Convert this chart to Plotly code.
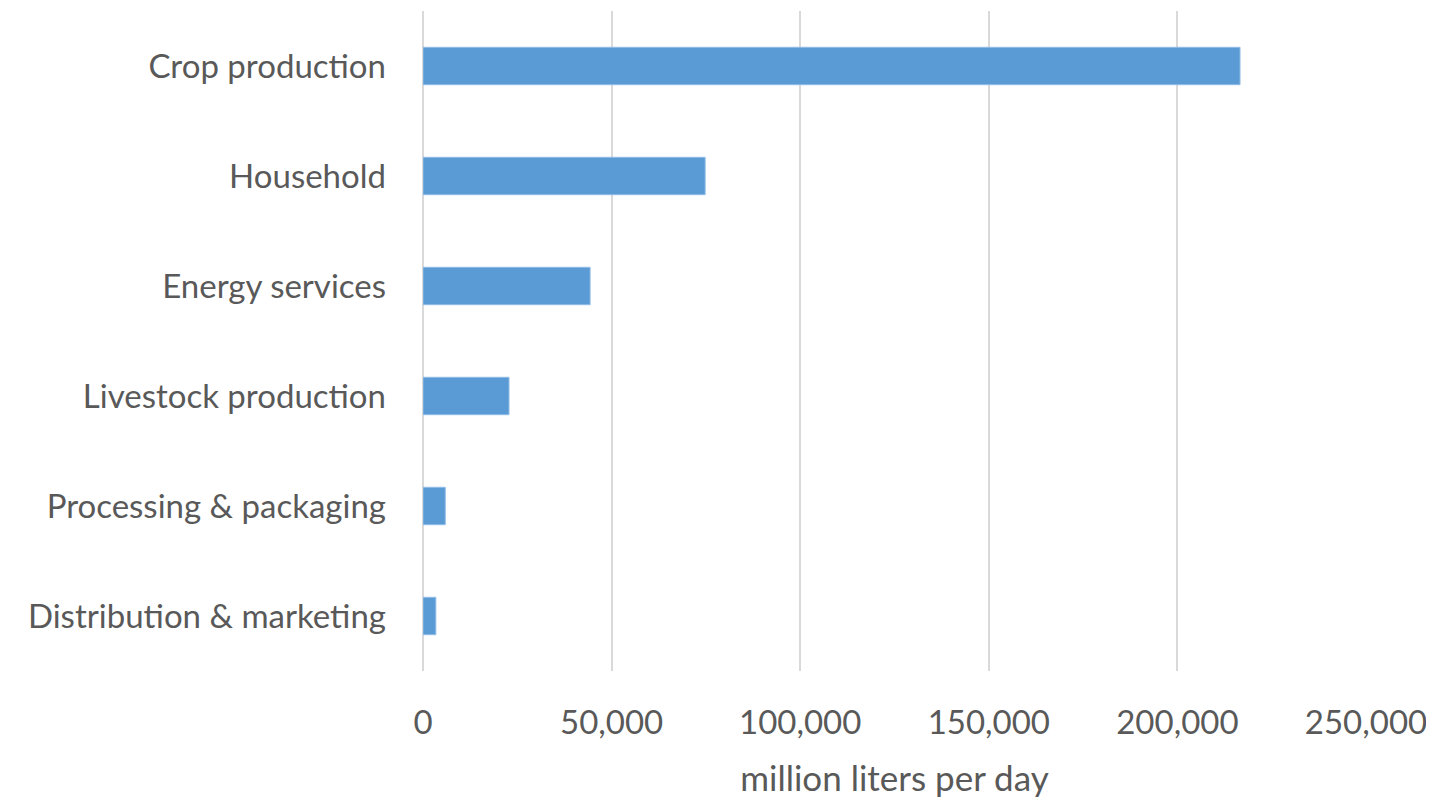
import plotly.graph_objects as go

categories = ["Crop production", "Household", "Energy services", "Livestock production",
              "Processing & packaging", "Distribution & marketing"]
values = [216600, 74800, 44300, 22800, 5900, 3400]
tick_vals = [0, 50000, 100000, 150000, 200000, 250000]
tick_text = ["0", "50,000", "100,000", "150,000", "200,000", "250,000"]

fig = go.Figure(go.Bar(
    x=values, y=categories, orientation="h",
    marker=dict(color="#5B9BD5", line=dict(color="#8FBCE6", width=1)),
    width=0.34,
))

font_family = "Lato, Open Sans, sans-serif"
fs = 33
# page body has an 8px default margin; compensate so the plot lands where the reference has it
fig.update_layout(
    width=1426, height=794,
    margin=dict(l=415, r=68, t=3, b=131, autoexpand=False),
    paper_bgcolor="white", plot_bgcolor="white",
    showlegend=False,
    font=dict(family=font_family, size=fs, color="#595959"),
)
fig.update_xaxes(
    range=[0, 250000], tickvals=tick_vals, ticktext=tick_text,
    showgrid=True, gridcolor="#D9D9D9", gridwidth=1.5,
    zeroline=True, zerolinecolor="#D9D9D9", zerolinewidth=1.5,
    showline=False, ticks="", automargin=False,
    ticklabelstandoff=29,
    tickfont=dict(size=fs, color="#595959"),
    title=dict(text="million liters per day", font=dict(size=35, color="#595959"), standoff=26),
)
fig.update_yaxes(
    categoryorder="array", categoryarray=categories[::-1],
    range=[-0.5, 5.5], automargin=False,
    showgrid=False, zeroline=False, showline=False, ticks="",
    ticklabelstandoff=36,
    tickfont=dict(size=fs, color="#595959"),
)
fig.write_html("out.html")
